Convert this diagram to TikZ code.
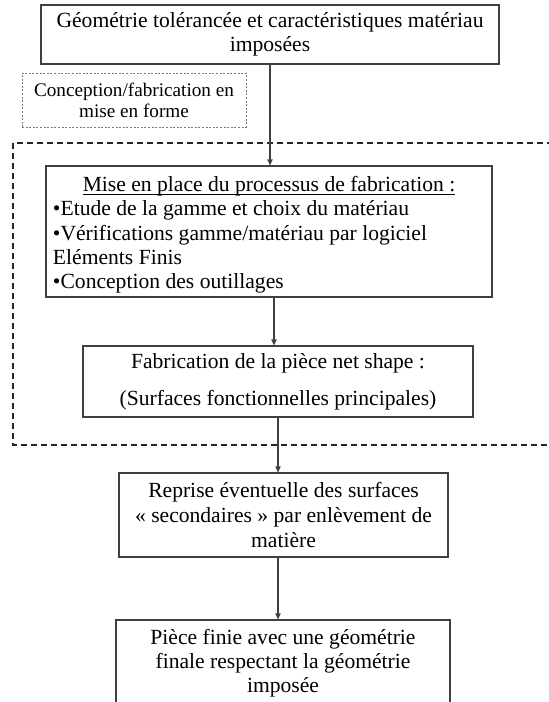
\documentclass[tikz,border=0pt]{standalone}
\usepackage{fontspec}
\setmainfont{Liberation Serif}
\usetikzlibrary{arrows.meta}
\definecolor{boxline}{HTML}{404040}
\tikzstyle{rect} = [
    rectangle,
    align=center,
    text centered,
    inner sep=0pt,
    draw=boxline,
    line width=0.55pt,
    font=\fontsize{10.8}{12.15}\selectfont,
]
\tikzstyle{drect} = [rect, draw=boxline!70, line width=0.4pt,
    dash pattern=on 1pt off 0.8pt, font=\fontsize{9.6}{10.5}\selectfont]
\tikzstyle{frame} = [draw=black!85, line width=0.7pt, dash pattern=on 3pt off 2pt]
\tikzstyle{arrow} = [draw=boxline, line width=0.55pt, -{Triangle[length=3pt,width=2.6pt]}]
\begin{document}
\begin{tikzpicture}[x=0.5pt, y=-0.5pt]
    \useasboundingbox (0,0) rectangle (549,702);
    \draw [frame] (13,143) rectangle (556,445);

    \node (geo) [rect, minimum width=229pt, minimum height=29.5pt] at (270,34.5)
        {G\'eom\'etrie tol\'eranc\'ee et caract\'eristiques mat\'eriau\\ impos\'ees};
    \node (conc) [drect, minimum width=112pt, minimum height=27pt] at (134,100)
        {Conception/fabrication en\\ mise en forme};
    \node (mise) [rect, align=flush left, text width=216pt, minimum width=223pt,
        minimum height=65.5pt] at (269,231.5) {%
        \rule{0pt}{11pt}\makebox[216pt][c]{\underline{\raisebox{0pt}[\height][0pt]{Mise en place du processus de fabrication :}}}\\
        •Etude de la gamme et choix du mat\'eriau\\
        •V\'erifications gamme/mat\'eriau par logiciel\\
        El\'ements Finis\\
        •Conception des outillages%
    };
    \node (fab) [rect, minimum width=195pt, minimum height=35.5pt] at (278,381.5)
        {Fabrication de la pi\`ece net shape :\\[6.3pt] (Surfaces fonctionnelles principales)};
    \node (rep) [rect, minimum width=164.5pt, minimum height=42pt] at (283.5,515)
        {Reprise \'eventuelle des surfaces\\[0.5pt] «~secondaires~» par enl\`evement de\\[0.5pt] mati\`ere};
    \node (piece) [rect, minimum width=167pt, minimum height=43pt] at (283,663)
        {Pi\`ece finie avec une g\'eom\'etrie\\ finale respectant la g\'eom\'etrie\\ impos\'ee};
    \coordinate (mid) at (274,0);

    \draw [arrow] (geo.south) -- (geo.south |- mise.north);
    \draw [arrow] (mise.south -| mid) -- (fab.north -| mid);
    \draw [arrow] (fab.south) -- (fab.south |- rep.north);
    \draw [arrow] (rep.south -| fab.south) -- (piece.north -| fab.south);
\end{tikzpicture}
\end{document}
